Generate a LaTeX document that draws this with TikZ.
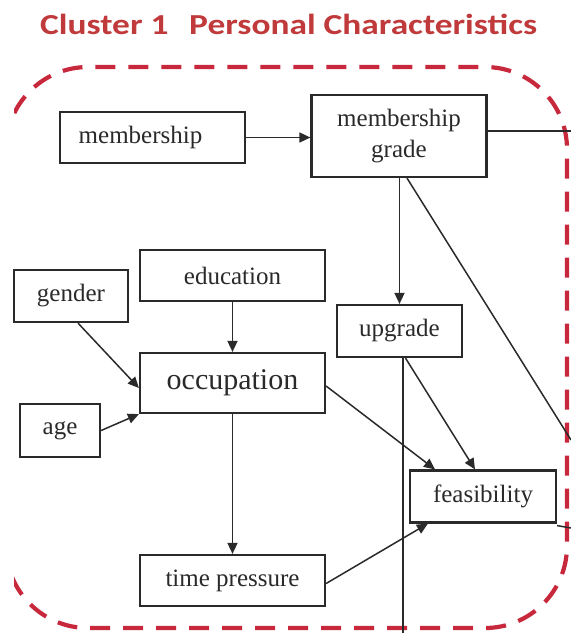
\documentclass[tikz,border=0pt]{standalone}
\usepackage{fontspec}
\setmainfont{Liberation Serif}
\newfontfamily\titlefont{Carlito}
\usetikzlibrary{arrows.meta}
\definecolor{clusterred}{HTML}{C8283C}
\definecolor{titlered}{HTML}{C0393B}
\definecolor{ink}{HTML}{2A2A2A}
\tikzset{
  x=1pt, y=-1pt,
  box/.style={draw=ink, line width=2.2pt, fill=white, inner sep=0pt,
    font=\fontsize{25}{31}\selectfont, text=ink, align=center},
  link/.style={draw=ink, line width=1.5pt},
  arr/.style={link, -{Triangle[length=11pt,width=10pt]}},
  frame/.style={draw=clusterred, line width=4.2pt, dash pattern=on 20pt off 13pt,
    rounded corners=82pt}
}
\begin{document}
\begin{tikzpicture}
\useasboundingbox (0,0) rectangle (571,633);

% title
\node[anchor=west, text=titlered, xscale=1.22, font=\titlefont\bfseries\fontsize{29}{32}\selectfont, inner sep=0pt]
  (title) at (40,24) {Cluster 1\hspace{17pt}Personal Characteristics};

% cluster outline, cut off at the left edge
\begin{scope}
  \clip (14,55) rectangle (571,633);
  \draw[frame] (6,67) rectangle (567,628);
\end{scope}

% variables
\node[box, minimum width=185pt, minimum height=51pt] (membership) at (152.5,137.5) {\hspace{-24pt}membership};
\node[box, minimum width=175pt, minimum height=82pt] (grade) at (399,136) {membership\\grade};
\node[box, minimum width=185pt, minimum height=51pt] (education) at (232.5,275.5) {education};
\node[box, minimum width=114pt, minimum height=52pt] (gender) at (71,296) {gender};
\node[box, minimum width=125pt, minimum height=52pt] (upgrade) at (399.5,331) {upgrade};
\node[box, minimum width=185pt, minimum height=60pt, font=\fontsize{30}{32}\selectfont] (occupation) at (232.5,383) {occupation};
\node[box, minimum width=80pt, minimum height=53pt] (age) at (60,430.5) {age};
\node[box, minimum width=146pt, minimum height=52pt] (feasibility) at (483,496.5) {feasibility};
\node[box, minimum width=185pt, minimum height=51pt] (timepressure) at (232.5,580.5) {time pressure};

% loose ends running out of the cluster
\coordinate (gradeOut) at (571,131);
\coordinate (gradeDiag) at (571,440);
\coordinate (upgradeOut) at (403,633);
\coordinate (feasOut) at (571,528);

% connectors
\draw[arr] (membership.east) -- (grade.west |- membership.east);
\draw[link] (grade.east |- gradeOut) -- (gradeOut);
\draw[arr] (grade.south -| upgrade.north) -- (upgrade.north);
\draw[link] ([xshift=8pt]grade.south) -- (gradeDiag);
\draw[arr] (education.south) -- (occupation.north);
\draw[arr] (gender.south) ++(7pt,0) -- ([yshift=-5pt]occupation.west);
\draw[arr] (age.east) -- (occupation.south west);
\draw[arr] ([yshift=-3pt]occupation.east) -- ([xshift=-48pt]feasibility.north);
\draw[link] (upgradeOut |- upgrade.south) -- (upgradeOut);
\draw[arr] ([xshift=6pt]upgrade.south) -- ([xshift=-8pt]feasibility.north);
\draw[arr] (occupation.south) -- (timepressure.north);
\draw[arr] ([yshift=-3pt]timepressure.east) -- ([xshift=19pt]feasibility.south west);
\draw[link] ([yshift=-2pt]feasibility.south east) -- (feasOut);
\end{tikzpicture}
\end{document}
